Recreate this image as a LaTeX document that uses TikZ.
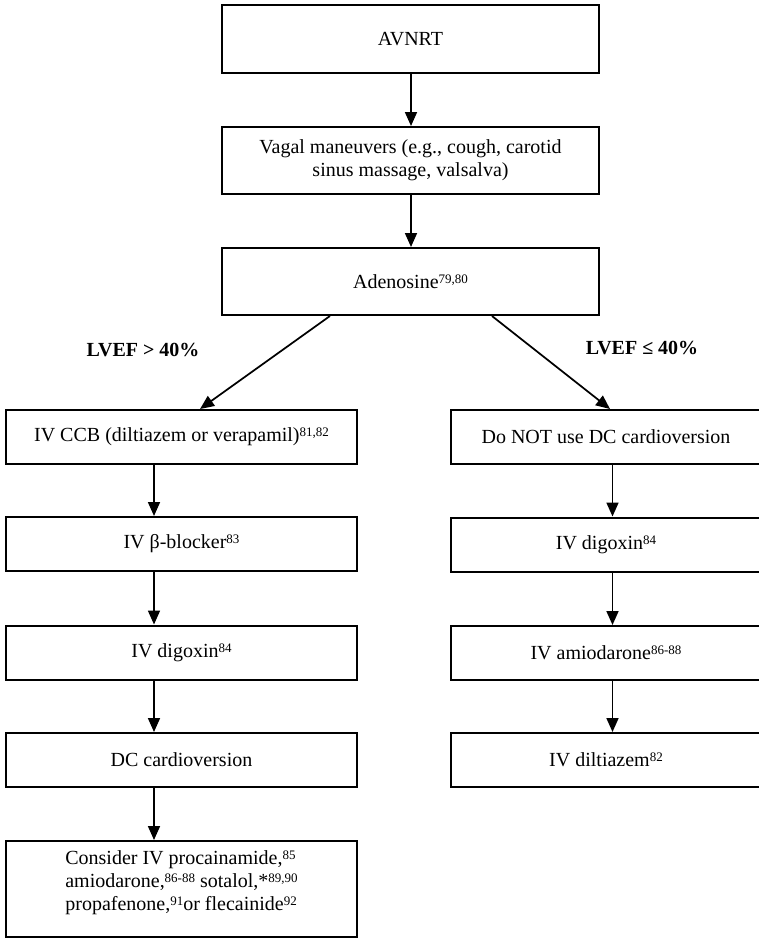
\documentclass[tikz,border=0pt]{standalone}
\usepackage{fontspec}
\setmainfont{Liberation Serif}
\usetikzlibrary{arrows.meta}
% small raised reference numbers
\newcommand\rf[1]{\raisebox{4pt}{\fontsize{9.75}{10}\selectfont #1}}
\begin{document}
\begin{tikzpicture}[x=0.75pt,y=-0.75pt,
  box/.style={draw, line width=1.5pt, font=\fontsize{15}{17.25}\selectfont, align=center, inner sep=2pt},
  topbox/.style={box, minimum width=282.75pt, minimum height=50.25pt},
  lbox/.style={box, minimum width=263.25pt, minimum height=40.5pt},
  rbox/.style={box, minimum width=232.5pt, minimum height=40.5pt},
  arr/.style={line width=1.3pt, -{Triangle[length=10.5pt,width=9pt]}},
  lbl/.style={font=\fontsize{15}{17}\selectfont\bfseries}]
\useasboundingbox (0,0) rectangle (758,939);
\fill[white] (0,0) rectangle (758,939);

% column guides for the vertical connectors
\coordinate (cx) at (411,0);
\coordinate (lx) at (154,0);
\coordinate (rx) at (612.5,0);

% common trunk
\node[topbox, minimum height=51pt] (avnrt) at (410.5,39) {AVNRT};
\node[topbox] (vagal) at (410.5,160.5) {Vagal maneuvers (e.g., cough, carotid\\ sinus massage, valsalva)};
\node[topbox] (ado) at (410.5,281.5) {Adenosine\rf{79,80}};

% preserved LV function
\node[lbox] (ccb) at (181.5,437) {IV CCB (diltiazem or verapamil)\rf{81,82}};
\node[lbox] (beta) at (181.5,544) {IV β-blocker\rf{83}};
\node[lbox] (digl) at (181.5,652.5) {IV digoxin\rf{84}};
\node[lbox] (dc) at (181.5,760) {DC cardioversion};
\node[lbox, minimum height=72pt, align=left] (cons) at (181.5,889)
  {Consider IV procainamide,\rf{85}\\ amiodarone,\rf{86-88} sotalol,*\rf{89,90}\\ propafenone,\rf{91}or flecainide\rf{92}\rule[-13pt]{0pt}{0pt}};

% reduced LV function
\node[rbox] (nodc) at (606,437) {Do NOT use DC cardioversion};
\node[rbox] (digr) at (606,544.5) {IV digoxin\rf{84}};
\node[rbox] (amio) at (606,653) {IV amiodarone\rf{86-88}};
\node[rbox] (dilt) at (606,760) {IV diltiazem\rf{82}};

% branch labels
\node[lbl] (gt) at (143,350) {LVEF > 40\%};
\node[lbl] (le) at (642,348) {LVEF ≤ 40\%};

% connectors
\draw[arr] (avnrt.south -| cx) -- (vagal.north -| cx);
\draw[arr] (vagal.south -| cx) -- (ado.north -| cx);
\draw[arr] ([xshift=-60.4pt]ado.south) -- ([xshift=13.9pt]ccb.north);
\draw[arr] ([xshift=61.1pt]ado.south) -- ([xshift=3pt]nodc.north);

\draw[arr] (ccb.south -| lx) -- (beta.north -| lx);
\draw[arr] (beta.south -| lx) -- (digl.north -| lx);
\draw[arr] (digl.south -| lx) -- (dc.north -| lx);
\draw[arr] (dc.south -| lx) -- (cons.north -| lx);

\draw[arr] (nodc.south -| rx) -- (digr.north -| rx);
\draw[arr] (digr.south -| rx) -- (amio.north -| rx);
\draw[arr] (amio.south -| rx) -- (dilt.north -| rx);
\end{tikzpicture}
\end{document}
